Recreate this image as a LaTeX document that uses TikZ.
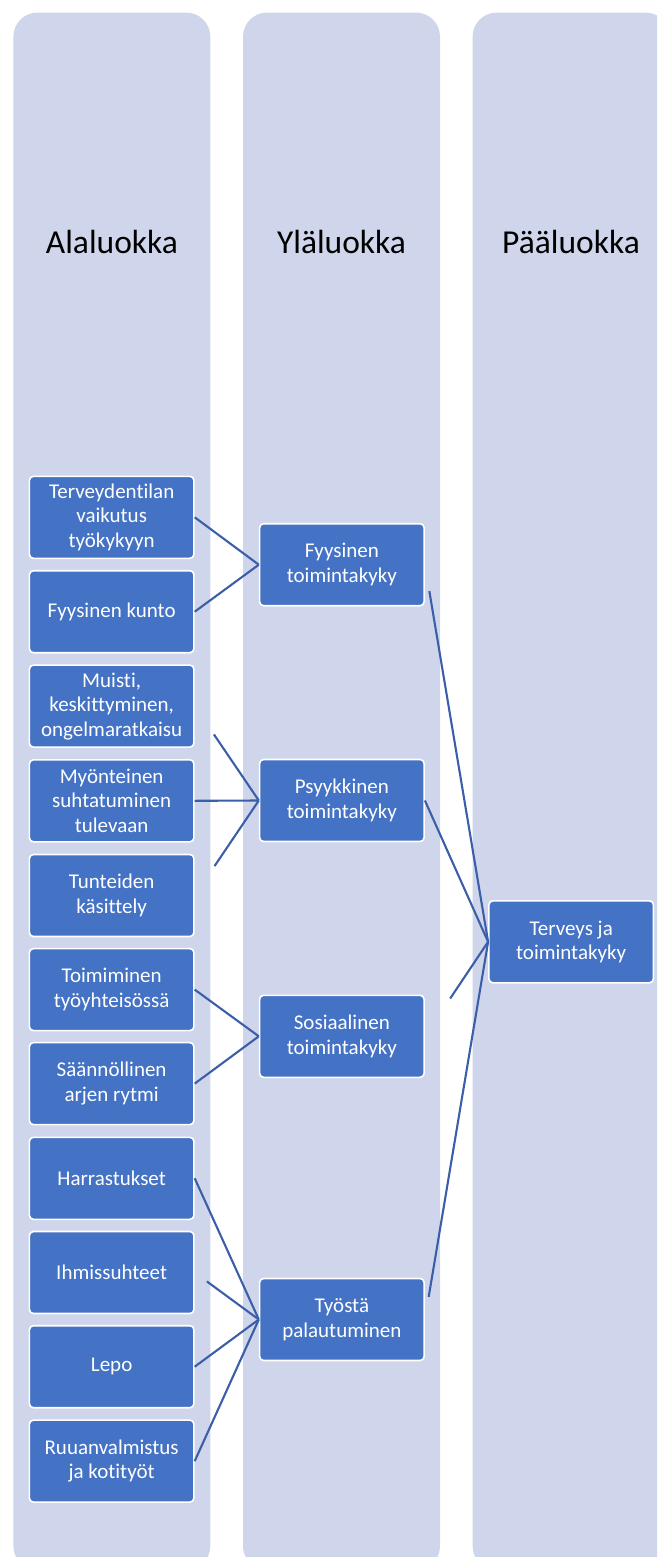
\documentclass[tikz,border=0pt]{standalone}
\usepackage{fontspec}
\setmainfont{Carlito}[Ligatures={NoCommon,NoContextual,NoRequired}]
\usetikzlibrary{calc}
\definecolor{colbg}{HTML}{CFD5EA}
\definecolor{boxblue}{HTML}{4472C4}
\definecolor{linkblue}{HTML}{3B5EA8}
\tikzset{
  column/.style={fill=colbg, draw=none, rounded corners=24pt},
  header/.style={anchor=base, text=black, font=\fontsize{33.5}{40}\selectfont},
  itembox/.style={rectangle, rounded corners=4pt, fill=boxblue, draw=white, line width=1.6pt,
    minimum width=164.5pt, minimum height=82pt, inner sep=2pt, align=center, text=white,
    font=\fontsize{21}{24.5}\selectfont},
  link/.style={draw=linkblue, line width=2.1pt}
}
\begin{document}
\begin{tikzpicture}[x=1pt,y=-1pt]
\useasboundingbox (0,0) rectangle (657,1557);
\clip (0,0) rectangle (657,1557);
% columns
\path[column] (13.4,12.6) rectangle (210.3,1570);
\path[column] (243,12.6) rectangle (440,1570);
\path[column] (472.6,12.6) rectangle (669.6,1570);
% headers
\node[header] (h1) at (111.9,253) {Alaluokka};
\node[header] (h2) at (341.5,253) {Yläluokka};
\node[header] (h3) at (571,253) {Pääluokka};
% left column
\node[itembox] (a1) at (111.65,517.3) {Terveydentilan\\vaikutus\\työkykyyn};
\node[itembox] (a2) at (111.65,611.7) {Fyysinen kunto};
\node[itembox] (a3) at (111.65,706.1) {Muisti,\\keskittyminen,\\ongelmaratkaisu};
\node[itembox] (a4) at (111.65,800.8) {Myönteinen\\suhtatuminen\\tulevaan};
\node[itembox] (a5) at (111.65,895.5) {Tunteiden\\käsittely};
\node[itembox] (a6) at (111.65,989.6) {Toimiminen\\työyhteisössä};
\node[itembox] (a7) at (111.65,1083.6) {Säännöllinen\\arjen rytmi};
\node[itembox] (a8) at (111.65,1178.3) {Harrastukset};
\node[itembox] (a9) at (111.65,1272.5) {Ihmissuhteet};
\node[itembox] (a10) at (111.65,1366.7) {Lepo};
\node[itembox] (a11) at (111.65,1461.1) {Ruuanvalmistus\\ja kotityöt};
% middle column
\node[itembox] (b1) at (341.85,564.7) {Fyysinen\\toimintakyky};
\node[itembox] (b2) at (341.85,800.5) {Psyykkinen\\toimintakyky};
\node[itembox] (b3) at (341.85,1036.3) {Sosiaalinen\\toimintakyky};
\node[itembox] (b4) at (341.85,1319.5) {Työstä\\palautuminen};
% right column
\node[itembox] (c1) at (571.15,941.8) {Terveys ja\\toimintakyky};
% connectors
\draw[link] (b1.west) -- (a1.east);
\draw[link] (b1.west) -- (a2.east);
\draw[link] (b2.west) -- ($(b2.west)!0.70!(a3.east)$);
\draw[link] (b2.west) -- (a4.east);
\draw[link] (b2.west) -- ($(b2.west)!0.69!(a5.east)$);
\draw[link] (b3.west) -- (a6.east);
\draw[link] (b3.west) -- (a7.east);
\draw[link] (b4.west) -- (a8.east);
\draw[link] (b4.west) -- ($(b4.west)!0.81!(a9.east)$);
\draw[link] (b4.west) -- (a10.east);
\draw[link] (b4.west) -- (a11.east);
\draw[link] (c1.west) -- ($(c1.west)!0.93!(b1.east)$);
\draw[link] (c1.west) -- (b2.east);
\draw[link] (c1.west) -- ($(c1.west)!0.60!(b3.east)$);
\draw[link] (c1.west) -- ($(c1.west)!0.94!(b4.east)$);
\end{tikzpicture}
\end{document}
